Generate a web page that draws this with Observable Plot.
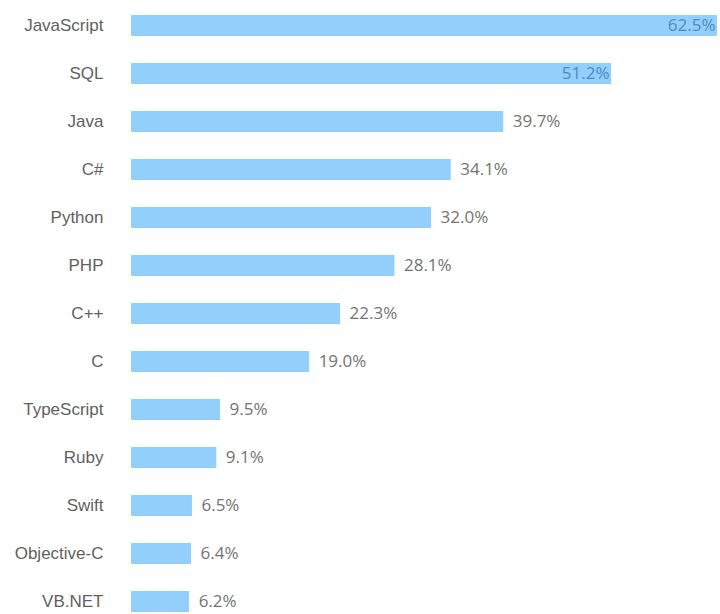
<!DOCTYPE html>
<html>
<head>
<meta charset="utf-8">
<script src="https://cdn.jsdelivr.net/npm/d3@7"></script>
<script src="https://cdn.jsdelivr.net/npm/@observablehq/plot@0.6"></script>
<style>
  html, body { margin: 0; padding: 0; background: #fff; }
  #chart svg { display: block; }
</style>
</head>
<body>
<div id="chart"></div>
<script>
const languages = ["JavaScript", "SQL", "Java", "C#", "Python", "PHP", "C++", "C", "TypeScript", "Ruby", "Swift", "Objective-C", "VB.NET"];
const shares = [62.5, 51.2, 39.7, 34.1, 32.0, 28.1, 22.3, 19.0, 9.5, 9.1, 6.5, 6.4, 6.2];
const insideLabels = ["JavaScript", "SQL"];

const data = languages.map((name, i) => ({name, value: shares[i], inside: insideLabels.includes(name)}));
const fmt = d => d.value.toFixed(1) + "%";

const chart = Plot.plot({
  width: 720,
  height: 614,
  marginLeft: 131,
  marginRight: 3,
  marginTop: 0,
  marginBottom: 0,
  style: {background: "#fff"},
  x: {domain: [0, 62.5], axis: null},
  y: {domain: languages, range: [2, 626], paddingInner: 0.56, paddingOuter: 0.28, axis: null},
  marks: [
    Plot.barX(data, {x: "value", y: "name", fill: "#92cffa"}),
    Plot.text(data, {x: 0, y: "name", text: "name", textAnchor: "end", dx: -28, fill: "#5f5f5f", fontSize: 17, fontFamily: "Liberation Sans, Arial, sans-serif"}),
    Plot.text(data.filter(d => !d.inside), {x: "value", y: "name", text: fmt, textAnchor: "start", dx: 9, fill: "#737373", fontSize: 17, fontFamily: "Open Sans, sans-serif"}),
    Plot.text(data.filter(d => d.inside), {x: "value", y: "name", text: fmt, textAnchor: "end", dx: -2, fill: "#4a8cc6", fontSize: 17, fontFamily: "Open Sans, sans-serif"})
  ]
});
document.getElementById("chart").append(chart);
</script>
</body>
</html>
